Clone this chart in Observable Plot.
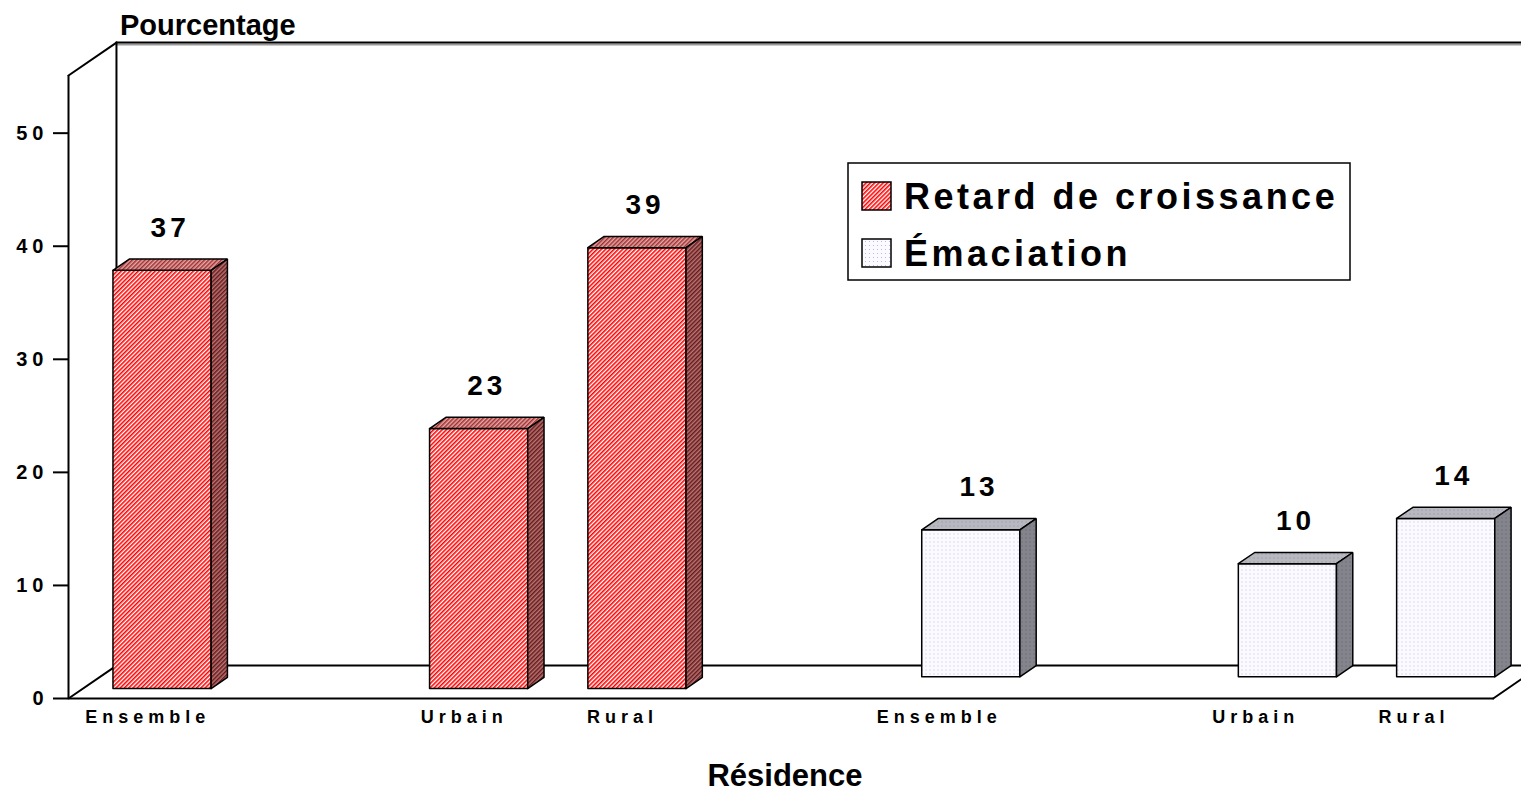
<!DOCTYPE html>
<html>
<head>
<meta charset="utf-8">
<script src="https://cdn.jsdelivr.net/npm/d3@7"></script>
<script src="https://cdn.jsdelivr.net/npm/@observablehq/plot@0.6"></script>
<style>
  html, body { margin: 0; padding: 0; background: #fff; overflow: hidden; }
  #chart { position: relative; width: 1521px; height: 793px; }
  g[aria-label="y-axis tick label"] text { letter-spacing: 5px; }
  .spaced4 { letter-spacing: 4px; }
  .spaced5 { letter-spacing: 5px; }
  .legend-text { letter-spacing: 3.5px; }
</style>
</head>
<body>
<div id="chart"></div>
<script>
// ---- data ----
const categories = ["Ensemble", "", "Urbain", "Rural", "", "Ensemble", "", "Urbain", "Rural"];
const seriesNames = ["Retard de croissance", "Émaciation"];
const retardValues = [37, null, 23, 39, null, null, null, null, null];
const emaciationValues = [null, null, null, null, null, 13, null, 10, 14];
const yTicks = [0, 10, 20, 30, 40, 50];
const yMax = 55.1;

// ---- oblique 3D projection (depth expressed in data units) ----
const DX = 0.303, DY = 2.913;
const proj = (x, y, z) => ({x: x + z * DX, y: y + z * DY});
const rows = [[0.30, 0.64], [0.66, 1.0]];
const B0 = 0.19, B1 = 0.81;

function buildFaces(values, s) {
  const front = [], top = [], side = [], labels = [];
  const [z0, z1] = rows[s];
  const add = (arr, id, pts) => {
    [...pts, pts[0]].forEach(([x, y, z]) => arr.push({id, ...proj(x, y, z)}));
  };
  values.forEach((v, k) => {
    if (v == null) return;
    const xa = k + B0, xb = k + B1, id = s + "-" + k;
    add(front, id, [[xa, 0, z0], [xb, 0, z0], [xb, v, z0], [xa, v, z0]]);
    add(top, id, [[xa, v, z0], [xb, v, z0], [xb, v, z1], [xa, v, z1]]);
    add(side, id, [[xb, 0, z0], [xb, 0, z1], [xb, v, z1], [xb, v, z0]]);
    labels.push({...proj(k + 0.5, v, (z0 + z1) / 2), text: String(v)});
  });
  return {front, top, side, labels};
}
const red = buildFaces(retardValues, 0);
const white = buildFaces(emaciationValues, 1);

const n = categories.length;
const wallPts = [];
const seg = (id, a, b) => { wallPts.push({id, ...proj(...a)}, {id, ...proj(...b)}); };
seg("backTop", [0, yMax, 1], [n + 1, yMax, 1]);
seg("backLeft", [0, 0, 1], [0, yMax, 1]);
seg("leftTop", [0, yMax, 0], [0, yMax, 1]);
seg("backFloor", [0, 0, 1], [n + 1, 0, 1]);
seg("floorLeft", [0, 0, 0], [0, 0, 1]);
seg("floorRight", [n, 0, 0], [n, 0, 1]);
seg("floorFront", [0, 0, 0], [n, 0, 0]);
const shadowPts = [];
shadowPts.push({id: "s", ...proj(0, yMax, 1)}, {id: "s", ...proj(n + 1, yMax, 1)});

const catData = categories.map((c, k) => ({x: k + 0.5, y: 0, text: c})).filter(d => d.text);

const faceMark = (data, fill) => Plot.line(data, {x: "x", y: "y", z: "id", fill, stroke: "#000", strokeWidth: 1.5, strokeLinejoin: "miter"});

const chart = Plot.plot({
  width: 1521,
  height: 793,
  marginLeft: 68,
  marginRight: 28.3,
  marginTop: 75,
  marginBottom: 95,
  style: {fontFamily: "'Liberation Sans', Arial, sans-serif", background: "#fff", color: "#000"},
  x: {type: "linear", domain: [0, n], axis: null},
  y: {domain: [0, yMax], axis: null},
  marks: [
    Plot.line(shadowPts, {x: "x", y: "y", z: "id", stroke: "#999", strokeWidth: 2, dy: 2}),
    Plot.line(wallPts, {x: "x", y: "y", z: "id", stroke: "#000", strokeWidth: 2}),
    Plot.ruleX([0], {y1: 0, y2: yMax, stroke: "#000", strokeWidth: 2}),
    Plot.axisY({ticks: yTicks, tickSize: 15, tickPadding: 5, fontSize: 20, fontWeight: "bold", label: null, strokeWidth: 2}),
    faceMark(red.front, "url(#redFront)"),
    faceMark(red.top, "url(#redTop)"),
    faceMark(red.side, "url(#redSide)"),
    faceMark(white.front, "url(#whiteFront)"),
    faceMark(white.top, "url(#whiteTop)"),
    faceMark(white.side, "url(#whiteSide)"),
    Plot.text([...red.labels, ...white.labels], {x: "x", y: "y", text: "text", dy: -37, dx: 0, fontSize: 28, fontWeight: "bold"}),
    Plot.text(catData, {x: "x", y: "y", text: "text", dy: 19, dx: 0, fontSize: 18, fontWeight: "bold"})
  ]
});

const svg = d3.select(chart);
// letter spacing on the two text marks (value labels, category labels)
const textGroups = svg.selectAll('g[aria-label="text"]').nodes();
if (textGroups[0]) d3.select(textGroups[0]).selectAll("text").classed("spaced4", true);
if (textGroups[1]) d3.select(textGroups[1]).selectAll("text").classed("spaced5", true);

svg.insert("defs", ":first-child").html(`
  <pattern id="redFront" width="3" height="3" patternUnits="userSpaceOnUse" patternTransform="rotate(45)">
    <rect width="3" height="3" fill="#fff"/><rect width="1.6" height="3" fill="#f00"/>
  </pattern>
  <pattern id="redTop" width="3" height="3" patternUnits="userSpaceOnUse" patternTransform="rotate(45)">
    <rect width="3" height="3" fill="#e4a8a8"/><rect width="1.5" height="3" fill="#a03030"/>
  </pattern>
  <pattern id="redSide" width="3" height="3" patternUnits="userSpaceOnUse" patternTransform="rotate(45)">
    <rect width="3" height="3" fill="#b47878"/><rect width="1.5" height="3" fill="#6a1818"/>
  </pattern>
  <pattern id="whiteFront" width="4" height="4" patternUnits="userSpaceOnUse">
    <rect width="4" height="4" fill="#fbfbff"/><rect x="1" y="1" width="1" height="1" fill="#b8b8f0"/>
  </pattern>
  <pattern id="whiteTop" width="4" height="4" patternUnits="userSpaceOnUse">
    <rect width="4" height="4" fill="#b8b8c0"/><rect x="1" y="1" width="1" height="1" fill="#8c8c9c"/>
  </pattern>
  <pattern id="whiteSide" width="4" height="4" patternUnits="userSpaceOnUse">
    <rect width="4" height="4" fill="#84848c"/><rect x="1" y="1" width="1" height="1" fill="#5c5c6c"/>
  </pattern>
`);

// titles
svg.append("text").attr("x", 120).attr("y", 35).attr("text-anchor", "start").attr("font-size", 29).attr("font-weight", "bold").text("Pourcentage");
svg.append("text").attr("x", 785).attr("y", 786).attr("text-anchor", "middle").attr("font-size", 31).attr("font-weight", "bold").text("Résidence");

// legend
const lg = svg.append("g").attr("aria-label", "legend");
lg.append("rect").attr("x", 848).attr("y", 163).attr("width", 502).attr("height", 117).attr("fill", "#fff").attr("stroke", "#000").attr("stroke-width", 1.5);
const fills = ["url(#redFront)", "url(#whiteFront)"];
seriesNames.forEach((name, i) => {
  const y0 = 182 + i * 57;
  lg.append("rect").attr("x", 862).attr("y", y0).attr("width", 29).attr("height", 28).attr("fill", fills[i]).attr("stroke", "#000").attr("stroke-width", 1.5);
  lg.append("text").attr("class", "legend-text").attr("x", 904).attr("y", y0 + 27).attr("text-anchor", "start").attr("font-size", 36).attr("font-weight", "bold").text(name);
});

document.getElementById("chart").appendChild(chart);
</script>
</body>
</html>
